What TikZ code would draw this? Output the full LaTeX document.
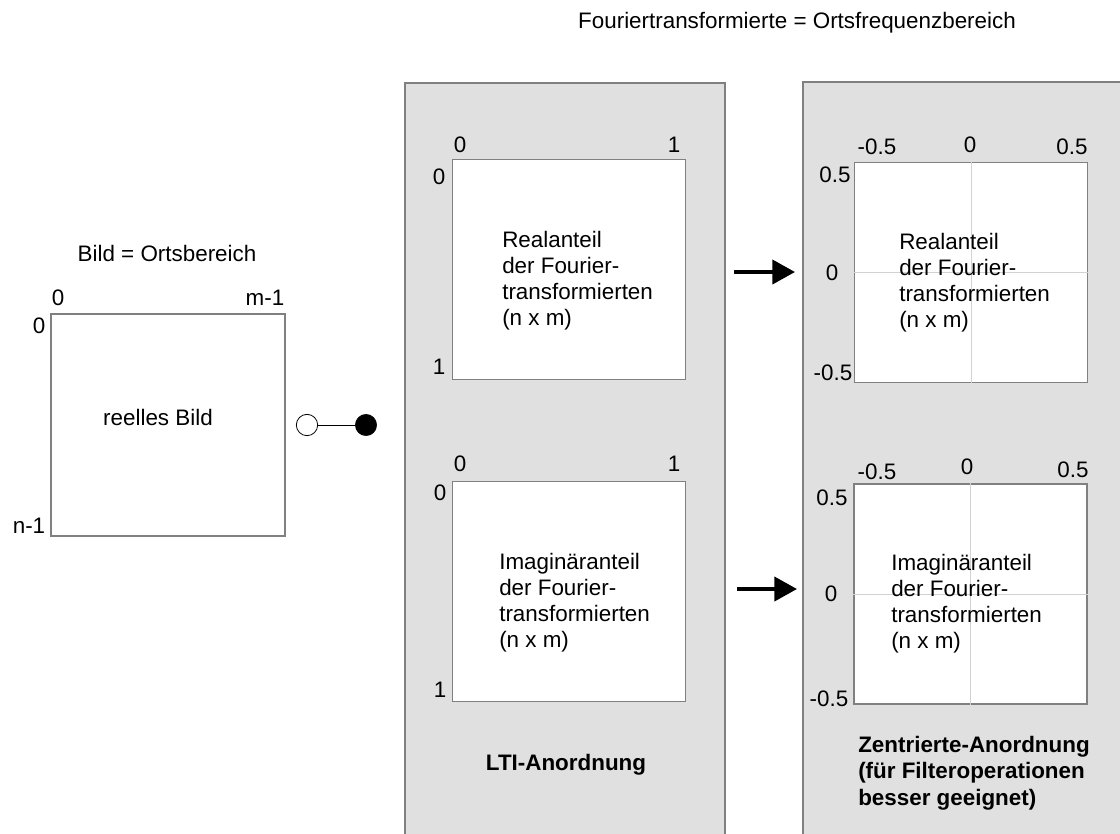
\documentclass[tikz,border=0pt]{standalone}
\usepackage{fontspec}
\setmainfont{Liberation Sans}
\usetikzlibrary{arrows.meta}
\definecolor{panelgray}{HTML}{E0E0E0}
\definecolor{edgegray}{HTML}{808080}
\definecolor{crossgray}{HTML}{D2D2D2}
\tikzset{
  panel/.style={fill=panelgray, draw=edgegray, line width=0.9pt},
  imgbox/.style={draw=edgegray, fill=white, line width=0.9pt, minimum width=174.75pt, minimum height=165pt, inner sep=0pt},
  lbl/.style={inner sep=0pt},
  body/.style={align=left, inner sep=0pt, anchor=west},
  heading/.style={align=left, inner sep=0pt, font=\fontsize{16.8}{19.8}\selectfont\bfseries},
  crossline/.style={draw=crossgray, line width=0.75pt},
  bigarrow/.style={-{Triangle[length=17pt,width=18pt]}, line width=3pt},
  hollowdot/.style={circle, draw=black, fill=white, minimum size=16pt, inner sep=0pt, line width=0.6pt},
  soliddot/.style={circle, draw=black, fill=black, minimum size=16pt, inner sep=0pt}
}
\begin{document}
\begin{tikzpicture}[x=0.75pt,y=-0.75pt, font=\fontsize{16.8}{19.5}\selectfont]
\useasboundingbox (0,0) rectangle (1120,833);
% panels
\path[panel] (405,83) rectangle (725,850);
\path[panel] (803,82) rectangle (1135,850);

% title
\node[lbl] (title) at (797,23) {Fouriertransformierte = Ortsfrequenzbereich};

% left image
\node[lbl] (bildtitle) at (167,253) {Bild = Ortsbereich};
\node[imgbox, minimum width=175.5pt, minimum height=166.5pt] (bild) at (168,425) {};
\node[lbl] (bx0) at (58,298) {0};
\node[lbl] (bxm) at (265,298) {m-1};
\node[lbl] (by0) at (39,326) {0};
\node[lbl] (byn) at (29,526) {n-1};
\node[lbl] (bildtxt) at (158,417) {reelles Bild};

% switch
\node[hollowdot] (sw1) at (307,425) {};
\node[soliddot] (sw2) at (366,425) {};
\draw[line width=0.75pt] (sw1) -- (sw2);

% LTI panel boxes
\node[imgbox] (L1) at (569,269.5) {};
\node[lbl] (L1x0) at (460,145) {0};
\node[lbl] (L1x1) at (674,145) {1};
\node[lbl] (L1y0) at (439,177) {0};
\node[lbl] (L1y1) at (439,367) {1};
\node[body] (L1txt) at (502,281) {Realanteil\\der Fourier-\\transformierten\\(n x m)};

\node[imgbox] (L2) at (569,591.5) {};
\node[lbl] (L2x0) at (460,464) {0};
\node[lbl] (L2x1) at (674,464) {1};
\node[lbl] (L2y0) at (440,493) {0};
\node[lbl] (L2y1) at (440,690) {1};
\node[body] (L2txt) at (499,603) {Imagin\"aranteil\\der Fourier-\\transformierten\\(n x m)};

\node[heading] (lti) at (566,765) {LTI-Anordnung};

% centred panel boxes
\node[imgbox] (R1) at (971,272.5) {};
\draw[crossline] (R1.north) -- (R1.south);
\draw[crossline] (R1.west) -- (R1.east);
\node[lbl] (R1xa) at (877,147) {-0.5};
\node[lbl] (R1xb) at (970,145) {0};
\node[lbl] (R1xc) at (1072,147) {0.5};
\node[lbl] (R1ya) at (835,175) {0.5};
\node[lbl] (R1yb) at (832,273) {0};
\node[lbl] (R1yc) at (833,373) {-0.5};
\node[body] (R1txt) at (899,282.5) {Realanteil\\der Fourier-\\transformierten\\(n x m)};

\node[imgbox] (R2) at (970.5,594) {};
\draw[crossline] (R2.north) -- (R2.south);
\draw[crossline] (R2.west) -- (R2.east);
\node[lbl] (R2xa) at (877,472) {-0.5};
\node[lbl] (R2xb) at (967,467) {0};
\node[lbl] (R2xc) at (1073,470) {0.5};
\node[lbl] (R2ya) at (832,498) {0.5};
\node[lbl] (R2yb) at (831,594) {0};
\node[lbl] (R2yc) at (829,699) {-0.5};
\node[body] (R2txt) at (891,604) {Imagin\"aranteil\\der Fourier-\\transformierten\\(n x m)};

\node[heading, anchor=west] (zentr) at (858,773) {Zentrierte-Anordnung\\(f\"ur Filteroperationen\\besser geeignet)};

% arrows
\coordinate (a1s) at (734,272);
\coordinate (a1e) at (795,272);
\coordinate (a2s) at (737,589);
\coordinate (a2e) at (797,589);
\draw[bigarrow] (a1s) -- (a1e);
\draw[bigarrow] (a2s) -- (a2e);
\end{tikzpicture}
\end{document}
